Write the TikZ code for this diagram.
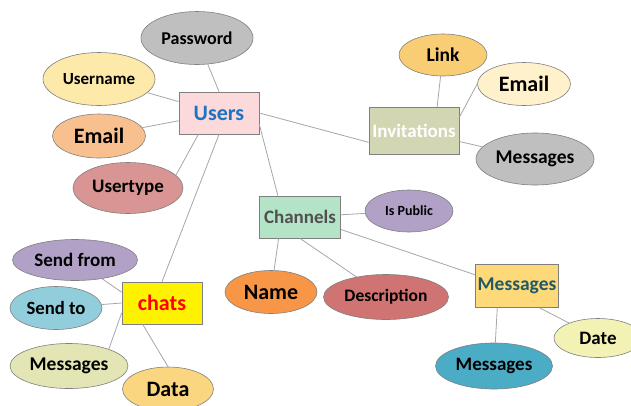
\documentclass[tikz,border=0pt]{standalone}
\usepackage{fontspec}
\setmainfont{Carlito}
\usepackage{tikz}
\usetikzlibrary{calc, positioning, shapes.geometric}

\definecolor{linegray}{HTML}{A6A6A6}
\definecolor{bordergray}{HTML}{7F7F7F}
\definecolor{cPassword}{HTML}{BFBFBF}
\definecolor{cUsername}{HTML}{FDE9A9}
\definecolor{cEmailL}{HTML}{F8C08F}
\definecolor{cUsertype}{HTML}{D99594}
\definecolor{cUsers}{HTML}{FCD9DB}
\definecolor{cUsersText}{HTML}{1F73C0}
\definecolor{cLink}{HTML}{F9CD73}
\definecolor{cEmailR}{HTML}{FFF1CC}
\definecolor{cInvit}{HTML}{D3D6B3}
\definecolor{cPublic}{HTML}{B2A1C7}
\definecolor{cChannels}{HTML}{B3E4C7}
\definecolor{cChanText}{HTML}{505050}
\definecolor{cName}{HTML}{F79646}
\definecolor{cDescr}{HTML}{D07373}
\definecolor{cMsgBox}{HTML}{FDD97A}
\definecolor{cMsgText}{HTML}{215968}
\definecolor{cDate}{HTML}{F2F2B5}
\definecolor{cMsgBot}{HTML}{4BACC6}
\definecolor{cSendTo}{HTML}{92CDDC}
\definecolor{cMsgL}{HTML}{E3E6B4}
\definecolor{cData}{HTML}{FAD680}

\newcommand{\fsz}[1]{\fontsize{#1}{#1}\selectfont\bfseries}

\tikzset{
	attr/.style={ellipse, draw=bordergray, line width=0.6, inner sep=0pt, text centered},
	entity/.style={rectangle, draw=bordergray, line width=0.8, inner sep=0pt, text centered},
	link/.style={draw=linegray, line width=0.8}
}

\begin{document}
\begin{tikzpicture}[x=1pt, y=-1pt]
	\useasboundingbox (0,0) rectangle (631,405);

		% nodes - entities %
		\node[entity, fill=cUsers, minimum width=80, minimum height=42, text=cUsersText] (users) at (219,113) {\fsz{22}Users};
		\node[entity, fill=cInvit, minimum width=90, minimum height=47, text=white] (invit) at (414,131) {\fsz{19}Invitations};
		\node[entity, fill=cChannels, minimum width=81, minimum height=42, text=cChanText] (chan) at (300,217) {\fsz{19}Channels};
		\node[entity, fill=cMsgBox, minimum width=83, minimum height=43, text=cMsgText] (msgbox) at (517,286) {\fsz{19.5}Messages};
		\node[entity, fill=yellow, minimum width=80, minimum height=42, text=red] (chats) at (162,303) {\fsz{22}chats};

		% nodes - attributes of users %
		\node[attr, fill=cPassword, minimum width=112, minimum height=53] (password) at (197,38) {\fsz{18}Password};
		\node[attr, fill=cUsername, minimum width=112, minimum height=53] (username) at (99,79) {\fsz{17}Username};
		\node[attr, fill=cEmailL, minimum width=93, minimum height=44] (emaill) at (99,136) {\fsz{22}Email};
		\node[attr, fill=cUsertype, minimum width=110, minimum height=51] (usertype) at (128,188) {\fsz{19}Usertype};

		% nodes - attributes of invitations %
		\node[attr, fill=cLink, minimum width=88, minimum height=42] (link) at (443,55) {\fsz{19.5}Link};
		\node[attr, fill=cEmailR, minimum width=93, minimum height=43] (emailr) at (524,84) {\fsz{22}Email};
		\node[attr, fill=cPassword, minimum width=118, minimum height=52] (msgr) at (535,159) {\fsz{19.5}Messages};

		% nodes - attributes of channels %
		\node[attr, fill=cPublic, minimum width=88, minimum height=42] (public) at (409,211) {\fsz{14}Is Public};
		\node[attr, fill=cName, minimum width=92, minimum height=43] (name) at (271,292) {\fsz{22}Name};
		\node[attr, fill=cDescr, minimum width=125, minimum height=45] (descr) at (386,297) {\fsz{17.5}Description};

		% nodes - attributes of messages %
		\node[attr, fill=cDate, minimum width=88, minimum height=39] (date) at (598,338) {\fsz{19}Date};
		\node[attr, fill=cMsgBot, minimum width=117, minimum height=46] (msgbot) at (494,366) {\fsz{19}Messages};

		% nodes - attributes of chats %
		\node[attr, fill=cPublic, minimum width=125, minimum height=41] (sendfrom) at (75,260) {\fsz{19}Send from};
		\node[attr, fill=cSendTo, minimum width=92, minimum height=43] (sendto) at (56,308) {\fsz{18.7}Send to};
		\node[attr, fill=cMsgL, minimum width=118, minimum height=45] (msgl) at (69,366) {\fsz{19.5}Messages};
		\node[attr, fill=cData, minimum width=91, minimum height=44] (data) at (168,389) {\fsz{22}Data};

		% edges %
		\draw[link] (users.north) -- (password);
		\draw[link] (users) -- (username);
		\draw[link] (users) -- (emaill);
		\draw[link] (users.226) -- (usertype.15);
		\draw[link] (users.south) -- (chats.north);
		\draw[link] (users.-16) -- (chan.136);
		\draw[link] (users.east) -- (invit.194);

		\draw[link] (invit.46) -- (link);
		\draw[link] (invit.17) -- (emailr.west);
		\draw[link] (invit) -- (msgr);

		\draw[link] (chan) -- (public);
		\draw[link] (chan.225) -- (name);
		\draw[link] (chan.south) -- (descr);
		\draw[link] (chan.-17) -- (msgbox.165);

		\draw[link] (msgbox.228) -- (msgbot);
		\draw[link] (msgbox.-44) -- (date);

		\draw[link] (chats.165) -- (sendfrom);
		\draw[link] (chats.west) -- (sendto);
		\draw[link] (chats.194) -- (msgl.23);
		\draw[link] (chats.228) -- (data.north);

\end{tikzpicture}
\end{document}
